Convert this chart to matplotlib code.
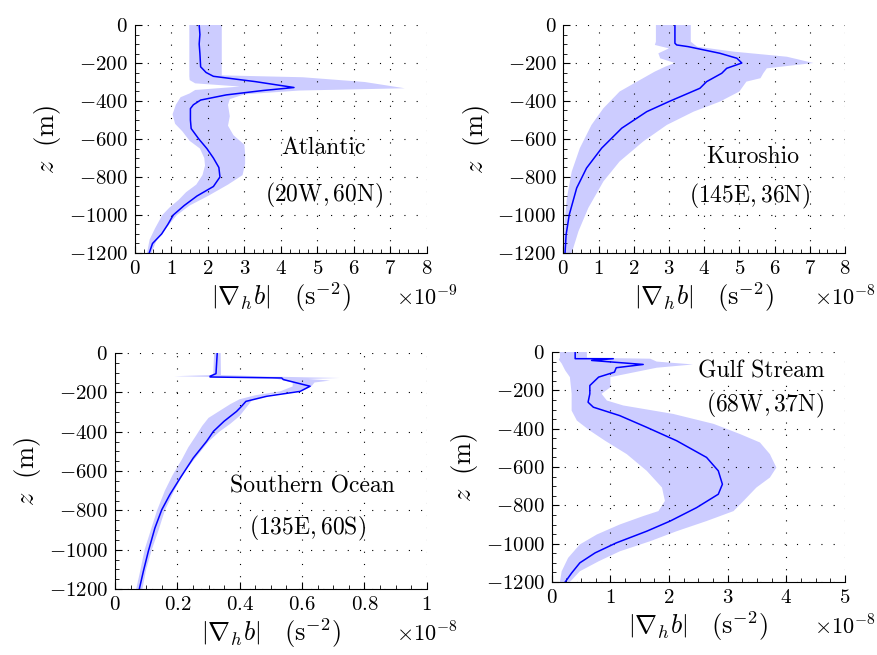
import numpy as np
import matplotlib
matplotlib.use("Agg")
import matplotlib.pyplot as plt
from matplotlib.ticker import MultipleLocator, FuncFormatter

plt.rcParams['font.family'] = 'serif'
plt.rcParams['font.serif'] = ['cmr10']
plt.rcParams['mathtext.fontset'] = 'cm'
plt.rcParams['axes.formatter.use_mathtext'] = True
plt.rcParams['axes.unicode_minus'] = True

# ---- Atlantic (x 1e-9) ----
atl_z = [0, -50, -100, -150, -220, -250, -270, -298, -329, -345, -368, -395, -420, -440,
         -500, -545, -600, -650, -700, -750, -800, -850, -900, -950, -1000, -1050, -1100, -1150, -1200]
atl_m = [1.76, 1.78, 1.76, 1.78, 1.80, 1.95, 2.15, 3.3, 4.36, 3.5, 2.5, 1.8, 1.6, 1.52,
         1.52, 1.54, 1.75, 1.97, 2.15, 2.3, 2.33, 2.15, 1.7, 1.35, 1.05, 0.9, 0.73, 0.48, 0.39]
atl_lo_z = [0, -270, -290, -307, -324, -342, -360, -380, -420, -470, -520, -560, -610, -650, -700,
            -740, -790, -840, -880, -920, -960, -1000, -1070, -1130, -1200]
atl_lo = [1.49, 1.49, 1.5, 1.65, 2.88, 1.65, 1.5, 1.25, 1.12, 1.03, 1.1, 1.3, 1.5, 1.78, 1.9,
          1.92, 1.85, 1.68, 1.4, 1.2, 0.95, 0.75, 0.55, 0.4, 0.33]
atl_hi_z = [0, -265, -275, -300, -333, -345, -365, -390, -420, -480, -530, -580, -630, -680, -730,
            -790, -840, -900, -950, -1000, -1070, -1130, -1200]
atl_hi = [2.38, 2.38, 4.6, 6.3, 7.4, 4.5, 3.0, 2.6, 2.55, 2.6, 2.55, 2.7, 3.0, 3.02, 3.02,
          2.95, 2.55, 2.0, 1.5, 1.15, 0.85, 0.6, 0.45]

# ---- Kuroshio (x 1e-8) ----
kur_z = [0, -50, -96, -105, -114, -149, -175, -200, -228, -254, -298, -333, -403, -456, -543,
         -648, -753, -858, -998, -1103, -1200]
kur_m = [3.17, 3.17, 3.17, 3.22, 3.55, 4.45, 4.93, 5.07, 4.64, 4.5, 4.07, 3.88, 3.0, 2.37, 1.66,
         1.09, 0.66, 0.38, 0.17, 0.08, 0.05]
kur_lo_z = [0, -88, -105, -123, -149, -175, -200, -219, -245, -289, -350, -438, -526, -648, -771,
            -912, -1035, -1200]
kur_lo = [2.63, 2.63, 2.6, 3.0, 2.7, 2.75, 3.17, 2.9, 2.6, 2.18, 1.6, 1.14, 0.8, 0.47, 0.24,
          0.1, 0.04, 0.0]
kur_hi_z = [0, -88, -114, -140, -167, -200, -228, -254, -280, -298, -350, -403, -456, -526, -613,
            -718, -823, -963, -1086, -1200]
kur_hi = [3.62, 3.62, 3.8, 4.83, 6.35, 7.1, 5.78, 5.68, 5.6, 5.2, 5.0, 4.45, 3.7, 2.94, 2.27,
          1.6, 1.14, 0.71, 0.43, 0.24]

# ---- Southern Ocean (x 1e-8) ----
sou_z = [0, -105, -118, -122, -127, -135, -169, -195, -220, -246, -271, -297, -347, -398, -449,
         -534, -636, -720, -797, -890, -1008, -1110, -1200]
sou_m = [0.328, 0.324, 0.305, 0.305, 0.535, 0.54, 0.626, 0.594, 0.487, 0.42, 0.406, 0.39, 0.35,
         0.316, 0.294, 0.251, 0.209, 0.176, 0.15, 0.128, 0.107, 0.091, 0.078]
sou_lo_z = [0, -112, -118, -122, -126, -135, -150, -170, -195, -215, -235, -260, -300, -330, -370,
            -420, -480, -540, -620, -700, -800, -900, -1000, -1100, -1200]
sou_lo = [0.318, 0.315, 0.19, 0.31, 0.50, 0.53, 0.57, 0.57, 0.53, 0.45, 0.40, 0.37, 0.33, 0.30,
          0.28, 0.26, 0.235, 0.215, 0.185, 0.16, 0.135, 0.115, 0.095, 0.082, 0.068]
sou_hi_z = [0, -112, -120, -127, -132, -140, -150, -170, -190, -210, -240, -280, -320, -360, -400,
            -450, -520, -600, -700, -800, -900, -1000, -1100, -1200]
sou_hi = [0.339, 0.34, 0.5, 0.72, 0.62, 0.69, 0.64, 0.63, 0.6, 0.5, 0.44, 0.42, 0.40, 0.37,
          0.335, 0.30, 0.265, 0.225, 0.19, 0.16, 0.14, 0.118, 0.1, 0.088]

# ---- Gulf Stream (x 1e-8) ----
gul_z = [0, -30, -35, -35, -44, -65, -82, -105, -131, -175, -218, -262, -288, -332, -393, -463,
         -550, -620, -690, -742, -812, -882, -935, -996, -1048, -1100, -1153, -1200]
gul_m = [0.4, 0.4, 0.4, 1.05, 0.68, 1.56, 1.1, 1.07, 0.8, 0.65, 0.65, 0.62, 0.71, 1.16, 1.62, 2.13,
         2.64, 2.84, 2.91, 2.84, 2.47, 2.02, 1.62, 1.1, 0.74, 0.48, 0.34, 0.23]
gul_lo_z = [0, -30, -40, -60, -96, -131, -218, -306, -358, -410, -463, -533, -620, -707, -777,
            -830, -856, -900, -952, -1004, -1074, -1144, -1200]
gul_lo = [0.14, 0.14, 0.12, 0.17, 0.23, 0.31, 0.34, 0.34, 0.43, 0.65, 0.91, 1.28, 1.62, 1.88,
          1.93, 1.82, 1.56, 1.16, 0.77, 0.48, 0.28, 0.17, 0.14]
gul_hi_z = [0, -30, -35, -50, -65, -82, -100, -131, -184, -218, -253, -279, -323, -375, -428,
            -472, -533, -603, -655, -707, -777, -830, -882, -935, -987, -1040, -1092, -1144, -1200]
gul_hi = [0.6, 0.6, 1.68, 1.79, 2.41, 1.79, 1.5, 1.0, 1.0, 0.85, 0.94, 1.22, 2.07, 2.76, 3.21,
          3.55, 3.72, 3.83, 3.72, 3.49, 3.27, 3.1, 2.64, 2.13, 1.68, 1.16, 0.8, 0.48, 0.31]

panels = [
    # name, coords, z, mean, lo_z, lo, hi_z, hi, xmax, xmajor, exponent, box (px), text pos
    ("Atlantic", r"$(20\mathrm{W},60\mathrm{N})$", atl_z, atl_m, atl_lo_z, atl_lo, atl_hi_z, atl_hi,
     8, 1, -9, [135, 25, 426.7, 253], (5.18, -647), (5.18, -895)),
    ("Kuroshio", r"$(145\mathrm{E},36\mathrm{N})$", kur_z, kur_m, kur_lo_z, kur_lo, kur_hi_z, kur_hi,
     8, 1, -8, [563.3, 25, 845, 253], (5.39, -695), (5.3, -905)),
    ("Southern Ocean", r"$(135\mathrm{E},60\mathrm{S})$", sou_z, sou_m, sou_lo_z, sou_lo, sou_hi_z, sou_hi,
     1, 0.2, -8, [115, 353, 426.7, 589], (0.632, -681), (0.617, -890)),
    ("Gulf Stream", r"$(68\mathrm{W},37\mathrm{N})$", gul_z, gul_m, gul_lo_z, gul_lo, gul_hi_z, gul_hi,
     5, 1, -8, [551.7, 352, 845, 582], (3.57, -104), (3.64, -277)),
]

fmt = FuncFormatter(lambda v, p: r"$%g$" % round(v, 6))

W, H = 877, 655
fig = plt.figure(figsize=(W / 100, H / 100), dpi=100)

for (name, coord, z, m, lz, lo, hz, hi, xmax, xmaj, ex, r, t1, t2) in panels:
    ax = fig.add_axes([r[0] / W, 1 - r[3] / H, (r[2] - r[0]) / W, (r[3] - r[1]) / H])
    ax.fill(np.r_[lo, hi[::-1]], np.r_[lz, hz[::-1]], color=(0.8, 0.8, 1.0), lw=0)
    ax.plot(m, z, color='blue', lw=1.1)
    ax.set_xlim(0, xmax)
    ax.set_ylim(-1200, 0)
    ax.xaxis.set_major_locator(MultipleLocator(xmaj))
    ax.xaxis.set_minor_locator(MultipleLocator(xmaj / 4))
    ax.yaxis.set_major_locator(MultipleLocator(200))
    ax.yaxis.set_minor_locator(MultipleLocator(50))
    ax.xaxis.set_major_formatter(fmt)
    ax.yaxis.set_major_formatter(fmt)
    ax.grid(True, which='major', linestyle=(0, (1, 10)), color='black', lw=0.8)
    for s in ('top', 'right'):
        ax.spines[s].set_visible(False)
    ax.tick_params(which='both', direction='in', labelsize=15, pad=5)
    ax.tick_params(which='major', length=5)
    ax.tick_params(which='minor', length=3)
    ax.set_xlabel(r"$\left|\nabla_h b\right|\ \ \ (\mathrm{s}^{-2})$", fontsize=19, labelpad=2)
    ax.set_ylabel(r"$z\ \ (\mathrm{m})$", fontsize=19, labelpad=4)
    ax.annotate(r"$\times 10^{%d}$" % ex, xy=(1.0, 0.0), xycoords='axes fraction',
                xytext=(0, -32), textcoords='offset points', fontsize=16,
                ha='center', va='center')
    ax.text(t1[0], t1[1], name, fontsize=17, ha='center', va='center')
    ax.text(t2[0], t2[1], coord, fontsize=17, ha='center', va='center')

fig.savefig("out.png", dpi=100)
